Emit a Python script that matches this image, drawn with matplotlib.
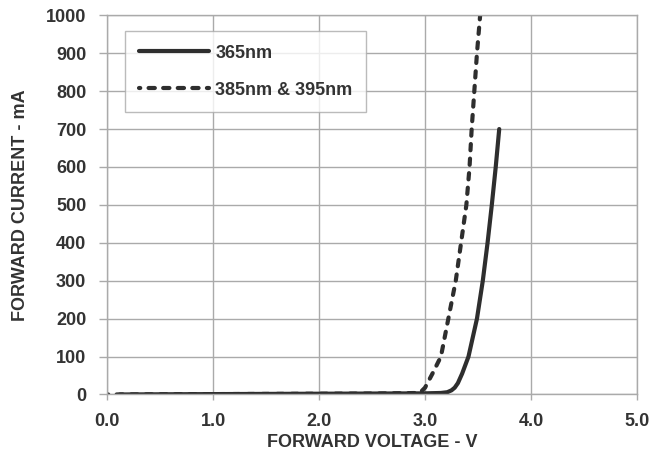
import numpy as np
import matplotlib.pyplot as plt

plt.rcParams.update({"font.family": "Liberation Sans", "font.weight": "bold"})

# 365nm curve (forward voltage V, forward current mA)
v_365 = [0.12, 0.5, 1.0, 1.5, 2.0, 2.5, 3.0, 3.15, 3.21, 3.25, 3.28, 3.31, 3.35,
         3.41, 3.49, 3.545, 3.59, 3.63, 3.667, 3.70]
i_365 = [0, 0.5, 1, 1.5, 2, 2.5, 3, 4, 6, 11, 18, 30, 55,
         100, 200, 300, 400, 500, 600, 700]

# 385nm & 395nm curve
v_385 = [0.0, 0.5, 1.0, 1.5, 2.0, 2.5, 2.95, 3.0, 3.07, 3.15, 3.22, 3.29, 3.34,
         3.39, 3.42, 3.44, 3.465, 3.49, 3.52]
i_385 = [0, 0.5, 1, 1.5, 2, 2.5, 4, 18, 55, 100, 200, 300, 400,
         500, 600, 700, 800, 900, 1000]

TXT = "#333333"
GRID = "#aaaaaa"
LINE = "#2e2e2e"
FS = 13

fig = plt.figure(figsize=(6.66, 4.55), dpi=100)
ax = fig.add_axes([0.1607, 0.1330, 0.7958, 0.8334])

ax.plot(v_365, i_365, color=LINE, lw=3.0, solid_capstyle="round",
        solid_joinstyle="round", label="365nm")
ax.plot(v_385, i_385, color=LINE, lw=3.0, ls=(1.2, (1.5, 2.0)),
        dash_capstyle="round", label="385nm & 395nm")

ax.set_xlim(0, 5)
ax.set_ylim(0, 1000)
ax.set_xticks(np.arange(0, 5.01, 1.0))
ax.set_yticks(np.arange(0, 1001, 100))
ax.set_xticklabels(["%.1f" % v for v in np.arange(0, 5.01, 1.0)])
ax.grid(True, color=GRID, lw=1.0)
ax.set_axisbelow(True)
for s in ax.spines.values():
    s.set_color(GRID)
    s.set_linewidth(1.0)
ax.tick_params(axis="y", length=6, pad=9)
ax.tick_params(axis="x", length=4, pad=9)
ax.tick_params(colors=GRID, labelcolor=TXT, labelsize=FS, width=1.0)
for lab in ax.get_xticklabels() + ax.get_yticklabels():
    lab.set_fontweight("bold")

ax.set_xlabel("FORWARD VOLTAGE - V", color=TXT, fontsize=FS,
              fontweight="bold", labelpad=3)
ax.set_ylabel("FORWARD CURRENT - mA", color=TXT, fontsize=FS,
              fontweight="bold", labelpad=12)

leg = ax.legend(loc="upper left", bbox_to_anchor=(0.034, 0.958),
                frameon=True, fancybox=False, fontsize=FS,
                handlelength=3.9, handletextpad=0.35, labelspacing=1.1,
                borderpad=0.75, borderaxespad=0)
leg.get_frame().set_edgecolor(GRID)
leg.get_frame().set_linewidth(1.0)
for t in leg.get_texts():
    t.set_color(TXT)
    t.set_fontweight("bold")

fig.savefig("out.png", dpi=100)
